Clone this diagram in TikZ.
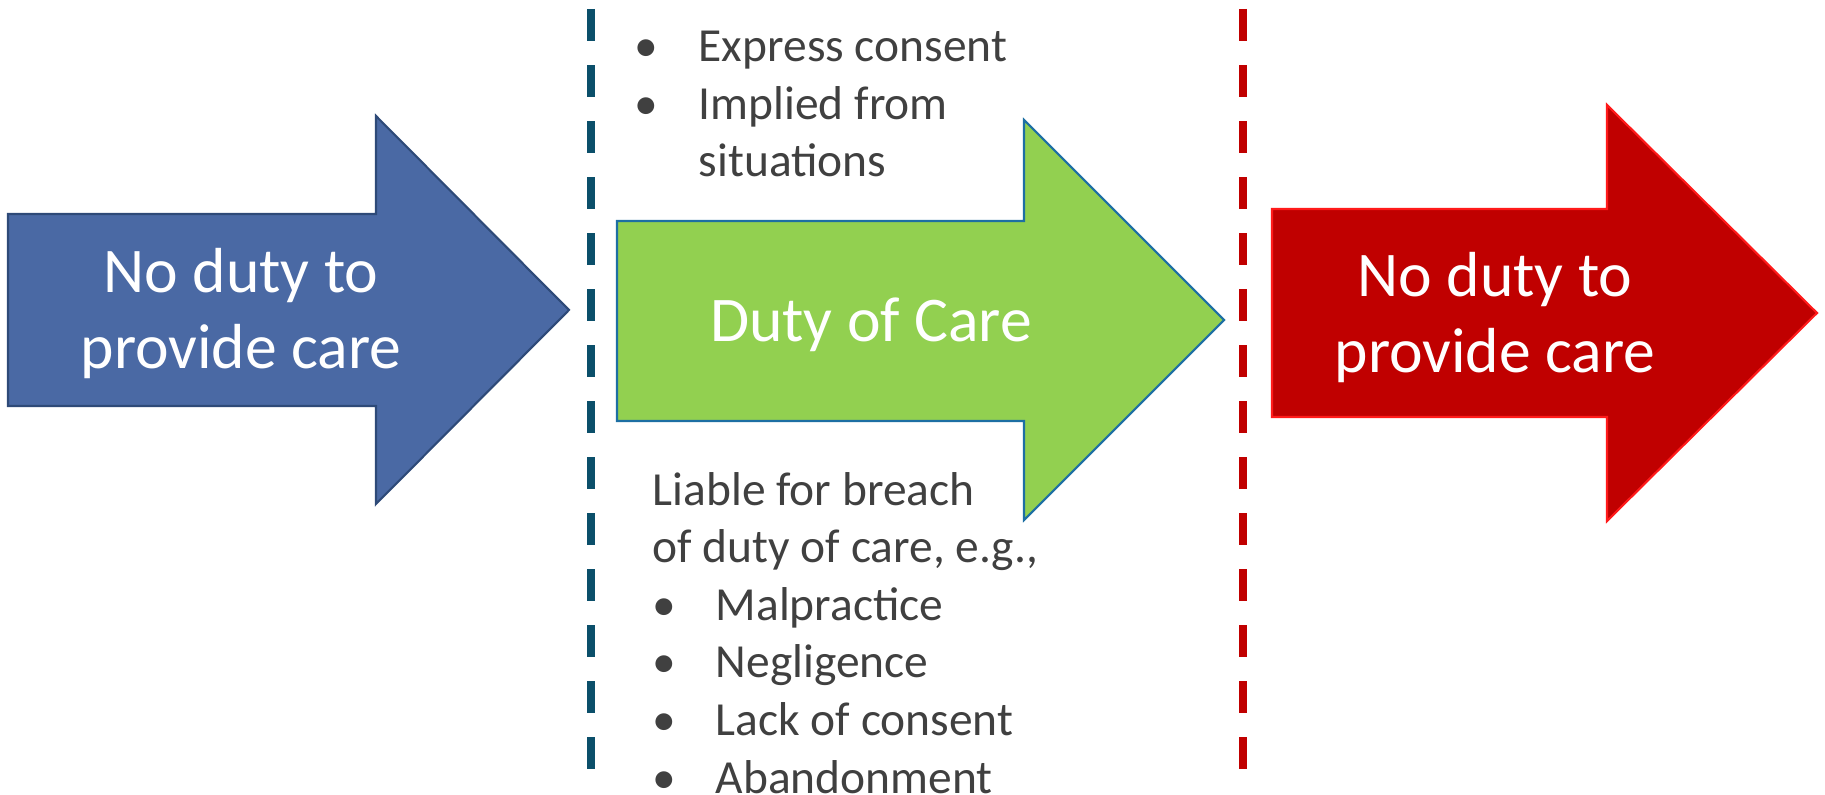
\documentclass[tikz,border=0pt]{standalone}
\usepackage{fontspec}
\setmainfont{Carlito}
\begin{document}
\definecolor{bluefill}{HTML}{4A69A4}
\definecolor{blueedge}{HTML}{2E4A78}
\definecolor{greenfill}{HTML}{92D050}
\definecolor{greenedge}{HTML}{1D6FA3}
\definecolor{redfill}{HTML}{C00000}
\definecolor{rededge}{HTML}{FF1A1A}
\definecolor{textgray}{HTML}{404040}
\definecolor{tealline}{HTML}{0B4F6A}
\definecolor{redline}{HTML}{C00000}
\newcommand{\itembul}[1]{\makebox[#1][l]{•}}
\begin{tikzpicture}[x=0.01cm,y=-0.01cm,
  arrowshape/.style={line width=0.6pt, line join=miter},
  arrowtext/.style={text=white, align=center, inner sep=0pt, anchor=base,
    font=\fontsize{18.1pt}{21.62pt}\selectfont},
  listtext/.style={text=textgray, align=left, inner sep=0pt, anchor=base west,
    font=\fontsize{13.5pt}{16.36pt}\selectfont},
  divider/.style={line width=2.2pt, dash pattern=on 0.32cm off 0.24cm}]
  \useasboundingbox (0,0) rectangle (1825,795);

  % three block arrows
  \draw[arrowshape, fill=bluefill, draw=blueedge]
    (8,214) -- (376,214) -- (376,116) -- (569,310) -- (376,504) -- (376,406) -- (8,406) -- cycle;
  \draw[arrowshape, fill=greenfill, draw=greenedge]
    (617,221) -- (1024,221) -- (1024,120) -- (1224,320) -- (1024,520) -- (1024,421) -- (617,421) -- cycle;
  \draw[arrowshape, fill=redfill, draw=rededge]
    (1272,209) -- (1607,209) -- (1607,105) -- (1817,313) -- (1607,521) -- (1607,417) -- (1272,417) -- cycle;

  % arrow labels (base anchor = baseline of the last line)
  \node[arrowtext] (before) at (241,369) {No duty to\\provide care};
  \node[arrowtext] (duty) at (871,342) {Duty of Care};
  \node[arrowtext] (after) at (1495,373) {No duty to\\provide care};

  % dashed dividers
  \coordinate (startTop) at (591,9);
  \coordinate (startBot) at (591,769);
  \coordinate (endTop) at (1243,9);
  \coordinate (endBot) at (1243,769);
  \draw[divider, tealline] (startTop) -- (startBot);
  \draw[divider, redline] (endTop) -- (endBot);

  % notes
  \node[listtext] (formed) at (634,177)
    {\itembul{0.64cm}Express consent\\\itembul{0.64cm}Implied from\\\hspace*{0.64cm}situations};
  \node[listtext] (breach) at (652,793)
    {Liable for breach\\of duty of care, e.g.,\\\itembul{0.63cm}Malpractice\\\itembul{0.63cm}Negligence\\\itembul{0.63cm}Lack of consent\\\itembul{0.63cm}Abandonment};
\end{tikzpicture}
\end{document}
